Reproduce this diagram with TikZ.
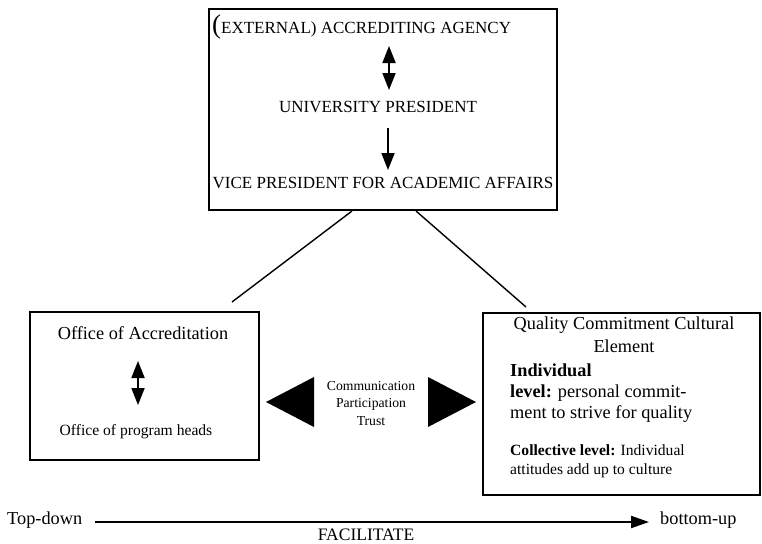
\documentclass[tikz,border=0pt]{standalone}
\usepackage{fontspec}
\setmainfont{Liberation Serif}
\usetikzlibrary{arrows.meta}
\tikzset{
  box/.style={draw, line width=1.8pt},
  link/.style={line width=1.4pt},
  dblarrow/.style={line width=1.8pt, {Triangle[width=13pt,length=17pt]}-{Triangle[width=13pt,length=17pt]}},
  downarrow/.style={line width=1.8pt, -{Triangle[width=13pt,length=17pt]}},
  flowarrow/.style={line width=2pt, -{Triangle[width=12pt,length=18pt]}},
  bigtri/.style={fill=black, draw=none},
  txt/.style={inner sep=0pt},
  fa/.style={font=\fontsize{17}{20}\selectfont},
  fb/.style={font=\fontsize{18.3}{22}\selectfont},
  fc/.style={font=\fontsize{15.6}{18}\selectfont},
  fd/.style={font=\fontsize{13.7}{16}\selectfont},
}
\begin{document}
\begin{tikzpicture}[x=1pt,y=-1pt]
\useasboundingbox (0,0) rectangle (762,543);
% boxes
\node[box, minimum width=348pt, minimum height=201pt, inner sep=0pt] (top) at (383,109.5) {};
\node[box, minimum width=229pt, minimum height=148pt, inner sep=0pt] (left) at (144.5,386) {};
\node[box, minimum width=277pt, minimum height=182pt, inner sep=0pt] (right) at (621.5,404) {};
% top box texts
\node[txt, fa, anchor=mid west] (agency) at (212,31) {{\fontsize{27}{27}\selectfont(}EXTERNAL) ACCREDITING AGENCY};
\node[txt, fa] (pres) at (378,107) {UNIVERSITY PRESIDENT};
\node[txt, fa] (vp) at (383,183) {VICE PRESIDENT FOR ACADEMIC AFFAIRS};
\coordinate (a1) at (389,46);
\coordinate (a2) at (389,90);
\coordinate (b1) at (388,128);
\coordinate (b2) at (388,170);
\draw[dblarrow] (a1) -- (a2);
\draw[downarrow] (b1) -- (b2);
% links
\coordinate (l1) at (352,211);
\coordinate (l2) at (232,302);
\coordinate (r1) at (416,211);
\coordinate (r2) at (526,307);
\draw[link] (l1) -- (l2);
\draw[link] (r1) -- (r2);
% left box texts
\node[txt, fb, anchor=mid] (acc) at (143,337) {Office of Accreditation};
\node[txt, fc, anchor=mid] (heads) at (136,433) {Office of program heads};
\coordinate (c1) at (138,361);
\coordinate (c2) at (138,405);
\draw[dblarrow] (c1) -- (c2);
% middle
\node[txt, fd, anchor=mid] (m1) at (371,388) {Communication};
\node[txt, fd, anchor=mid] (m2) at (371,405) {Participation};
\node[txt, fd, anchor=mid] (m3) at (371,423) {Trust};
\fill[bigtri] (266,402) -- (314,377) -- (314,427) -- cycle;
\fill[bigtri] (476,402) -- (428,377) -- (428,427) -- cycle;
% right box texts
\node[txt, fb, anchor=mid] (q1) at (624,327) {Quality Commitment Cultural};
\node[txt, fb, anchor=mid] (q2) at (624,350) {Element};
\node[txt, fb, anchor=mid west] (i1) at (510,374) {\textbf{Individual}};
\node[txt, fb, anchor=mid west] (i2) at (510,395) {\textbf{level:} personal commit-};
\node[txt, fb, anchor=mid west] (i3) at (510,416) {ment to strive for quality};
\node[txt, fc, anchor=mid west] (k1) at (510,453) {\textbf{Collective level:} Individual};
\node[txt, fc, anchor=mid west] (k2) at (510,472) {attitudes add up to culture};
% bottom
\node[txt, fb, anchor=mid west] (td) at (7,522) {Top-down};
\node[txt, fb, anchor=mid west] (bu) at (660,522) {bottom-up};
\node[txt, font=\fontsize{17.5}{20}\selectfont, anchor=base] (fac) at (366,540) {FACILITATE};
\coordinate (f1) at (95,522);
\coordinate (f2) at (649,522);
\draw[flowarrow] (f1) -- (f2);
\end{tikzpicture}
\end{document}
